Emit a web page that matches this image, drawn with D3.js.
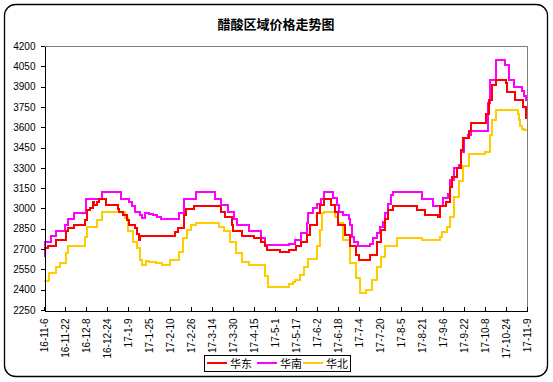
<!DOCTYPE html>
<html><head><meta charset="utf-8">
<script src="https://cdn.jsdelivr.net/npm/d3@7/dist/d3.min.js"></script>
<style>
html,body{margin:0;padding:0;background:#fff;}
svg{display:block;}
text{font-family:"Liberation Sans",Arial,sans-serif;}
</style></head>
<body>
<svg id="chart" width="553" height="382"></svg>
<script>
const title = "醋酸区域价格走势图";
const seriesNames = ["华东", "华南", "华北"];
const seriesColors = ["#FF0000", "#FF00FF", "#FFCC00"];
const xTickLabels = ["16-11-6","16-11-22","16-12-8","16-12-24","17-1-9","17-1-25","17-2-10","17-2-26","17-3-14","17-3-30","17-4-15","17-5-1","17-5-17","17-6-2","17-6-18","17-7-4","17-7-20","17-8-5","17-8-21","17-9-6","17-9-22","17-10-8","17-10-24","17-11-9"];
const yTicks = [2250,2400,2550,2700,2850,3000,3150,3300,3450,3600,3750,3900,4050,4200];

// 华东 (East)
const eastDates = ["2016-11-06","2016-11-07","2016-11-09","2016-11-15","2016-11-23","2016-11-24","2016-11-29","2016-12-07","2016-12-09","2016-12-11","2016-12-13","2016-12-14","2016-12-16","2016-12-18","2016-12-23","2017-01-01","2017-01-02","2017-01-05","2017-01-08","2017-01-10","2017-01-14","2017-01-16","2017-01-17","2017-01-18","2017-02-14","2017-02-16","2017-02-21","2017-02-22","2017-02-28","2017-03-16","2017-03-21","2017-03-24","2017-03-29","2017-03-30","2017-04-06","2017-04-15","2017-04-20","2017-04-23","2017-04-25","2017-05-05","2017-05-12","2017-05-17","2017-05-21","2017-05-25","2017-05-28","2017-06-02","2017-06-04","2017-06-07","2017-06-13","2017-06-16","2017-06-18","2017-06-23","2017-06-27","2017-07-02","2017-07-04","2017-07-12","2017-07-18","2017-07-21","2017-07-24","2017-07-26","2017-07-30","2017-08-17","2017-08-23","2017-09-02","2017-09-04","2017-09-08","2017-09-11","2017-09-13","2017-09-17","2017-09-20","2017-09-21","2017-09-26","2017-09-27","2017-10-09","2017-10-11","2017-10-13","2017-10-16","2017-10-24","2017-10-25","2017-10-31","2017-11-06","2017-11-08","2017-11-09"];
const eastValues = [2690,2710,2725,2770,2835,2855,2875,2915,2990,3005,3050,3025,3050,3070,3025,2995,2975,2950,2915,2880,2855,2815,2770,2800,2825,2855,2950,2995,3020,3015,2975,2940,2880,2830,2800,2780,2755,2720,2695,2675,2695,2720,2755,2805,2880,2965,3025,3070,3025,2975,2880,2805,2720,2655,2620,2655,2755,2840,2925,2990,3020,2990,2955,2940,3015,3050,3160,3235,3300,3430,3520,3570,3630,3700,3800,3910,3950,3925,3860,3800,3750,3670,3670];

// 华南 (South)
const southDates = ["2016-11-06","2016-11-07","2016-11-11","2016-11-15","2016-11-22","2016-11-24","2016-11-29","2016-12-08","2016-12-20","2017-01-04","2017-01-10","2017-01-12","2017-01-14","2017-01-18","2017-01-20","2017-01-22","2017-01-25","2017-01-28","2017-01-31","2017-02-03","2017-02-17","2017-02-21","2017-03-02","2017-03-16","2017-03-21","2017-03-26","2017-03-31","2017-04-02","2017-04-11","2017-04-20","2017-04-23","2017-05-12","2017-05-16","2017-05-21","2017-05-25","2017-05-26","2017-05-30","2017-06-02","2017-06-05","2017-06-07","2017-06-14","2017-06-17","2017-06-19","2017-06-22","2017-06-26","2017-06-27","2017-06-29","2017-06-30","2017-07-03","2017-07-12","2017-07-15","2017-07-18","2017-07-20","2017-07-22","2017-07-24","2017-07-26","2017-07-28","2017-07-30","2017-08-21","2017-08-29","2017-09-06","2017-09-10","2017-09-11","2017-09-14","2017-09-18","2017-09-20","2017-09-22","2017-09-25","2017-09-27","2017-10-10","2017-10-12","2017-10-16","2017-10-23","2017-10-26","2017-10-30","2017-11-05","2017-11-07","2017-11-08","2017-11-09"];
const southValues = [2650,2750,2800,2830,2880,2920,2970,3070,3120,3070,3045,3020,2975,2950,2930,2970,2960,2950,2940,2925,2970,3070,3120,3070,3025,2975,2925,2880,2830,2780,2730,2740,2770,2820,2890,2970,3000,3030,3070,3120,3075,3025,2975,2950,2925,2880,2790,2755,2725,2740,2780,2820,2865,2900,2970,3030,3100,3120,3070,3020,3075,3110,3210,3300,3320,3420,3520,3540,3570,3780,3950,4100,4060,3950,3900,3870,3830,3800,3800];

// 华北 (North)
const northDates = ["2016-11-06","2016-11-10","2016-11-15","2016-11-18","2016-11-23","2016-11-24","2016-12-07","2016-12-09","2016-12-16","2016-12-20","2017-01-07","2017-01-09","2017-01-13","2017-01-16","2017-01-18","2017-01-20","2017-01-23","2017-01-25","2017-01-30","2017-02-04","2017-02-10","2017-02-17","2017-02-20","2017-02-23","2017-02-26","2017-03-02","2017-03-19","2017-03-23","2017-03-28","2017-04-01","2017-04-06","2017-04-11","2017-04-23","2017-04-26","2017-05-12","2017-05-15","2017-05-16","2017-05-20","2017-05-23","2017-05-26","2017-06-02","2017-06-04","2017-06-06","2017-06-07","2017-06-16","2017-06-18","2017-06-22","2017-06-27","2017-07-02","2017-07-05","2017-07-09","2017-07-14","2017-07-18","2017-07-21","2017-07-24","2017-08-02","2017-08-21","2017-09-04","2017-09-05","2017-09-09","2017-09-11","2017-09-14","2017-09-18","2017-09-21","2017-09-26","2017-10-08","2017-10-12","2017-10-13","2017-10-16","2017-11-02","2017-11-03","2017-11-04","2017-11-05","2017-11-07","2017-11-09"];
const northValues = [2465,2520,2570,2600,2670,2725,2790,2865,2915,2975,2930,2830,2755,2705,2620,2580,2610,2605,2595,2585,2620,2680,2780,2840,2880,2890,2865,2830,2755,2670,2605,2580,2500,2420,2445,2460,2470,2510,2570,2625,2720,2840,2965,2975,2940,2890,2765,2595,2485,2375,2400,2470,2570,2645,2725,2785,2765,2790,2825,2865,2940,3085,3200,3310,3405,3420,3545,3655,3725,3700,3650,3610,3590,3580,3580];

const parseISO = d3.utcParse("%Y-%m-%d");
function parseShort(s){ const p = s.split("-").map(Number); return new Date(Date.UTC(2000+p[0], p[1]-1, p[2])); }

const svg = d3.select("#chart");
const W = 553, H = 382;
const plot = {left:44, right:527, top:46, bottom:310};

// outer rounded frame
svg.append("rect").attr("x",4.5).attr("y",4.5).attr("width",543).attr("height",372)
  .attr("rx",11).attr("ry",11).attr("fill","#fff").attr("stroke","#000").attr("stroke-width",1.3);

// title
svg.append("text").attr("x",276).attr("y",29).attr("text-anchor","middle")
  .style("font-family","'Noto Sans CJK SC',sans-serif").style("font-size","13px").style("font-weight","bold")
  .text(title);

const x = d3.scaleUtc().domain([parseShort(xTickLabels[0]), parseShort(xTickLabels[xTickLabels.length-1])]).range([plot.left, plot.right]);
const y = d3.scaleLinear().domain([yTicks[0], yTicks[yTicks.length-1]]).range([plot.bottom, plot.top]);

// plot border top/right gray
svg.append("path").attr("d",`M${plot.left},${plot.top+0.5}H${plot.right+0.5}V${plot.bottom}`)
  .attr("fill","none").attr("stroke","#808080").attr("stroke-width",1).attr("shape-rendering","crispEdges");

// series lines
const series = [
  {name:seriesNames[0], color:seriesColors[0], dates:eastDates, values:eastValues},
  {name:seriesNames[1], color:seriesColors[1], dates:southDates, values:southValues},
  {name:seriesNames[2], color:seriesColors[2], dates:northDates, values:northValues}
];
const line = d3.line().x(d=>x(d[0])).y(d=>y(d[1])).curve(d3.curveStepAfter);
const drawOrder = [2,1,0];
drawOrder.forEach(i=>{
  const s = series[i];
  const pts = s.dates.map((d,j)=>[parseISO(d), s.values[j]]);
  svg.append("path").datum(pts).attr("d",line).attr("fill","none")
    .attr("stroke",s.color).attr("stroke-width",2).attr("shape-rendering","crispEdges")
    .attr("stroke-linejoin","miter");
});

// y axis
const yAxis = d3.axisLeft(y).tickValues(yTicks).tickSize(4).tickSizeOuter(0).tickFormat(d3.format("d"));
const gy = svg.append("g").attr("transform",`translate(${plot.left+0.5},0)`).call(yAxis);
gy.select(".domain").attr("stroke","#000").attr("shape-rendering","crispEdges");
gy.selectAll(".tick line").attr("stroke","#000").attr("shape-rendering","crispEdges");
gy.selectAll(".tick text").attr("x",-9).style("font-size","10px").style("font-family","'Liberation Sans',Arial,sans-serif").attr("fill","#000");

// x axis
const xTickDates = xTickLabels.map(parseShort);
const xAxis = d3.axisBottom(x).tickValues(xTickDates).tickSize(-4).tickSizeOuter(0).tickFormat((d,i)=>xTickLabels[i]);
const gx = svg.append("g").attr("transform",`translate(0,${plot.bottom+0.5})`).call(xAxis);
gx.select(".domain").attr("stroke","#000").attr("shape-rendering","crispEdges");
gx.selectAll(".tick line").attr("stroke","#000").attr("shape-rendering","crispEdges");
gx.selectAll(".tick text")
  .attr("transform","rotate(-90)").attr("text-anchor","end")
  .attr("x",-8).attr("y",0).attr("dy","0.35em")
  .style("font-size","10px").style("font-family","'Liberation Sans',Arial,sans-serif").attr("fill","#000");

// legend
const lg = svg.append("g");
lg.append("rect").attr("x",204.5).attr("y",355.5).attr("width",146).attr("height",16)
  .attr("fill","#fff").attr("stroke","#000").attr("stroke-width",1).attr("shape-rendering","crispEdges");
const lx = [207, 257, 303];
series.forEach((s,i)=>{
  lg.append("line").attr("x1",lx[i]).attr("x2",lx[i]+20).attr("y1",363).attr("y2",363)
    .attr("stroke",s.color).attr("stroke-width",2).attr("shape-rendering","crispEdges");
  lg.append("text").attr("x",lx[i]+23).attr("y",367.5)
    .style("font-family","'Noto Sans CJK SC',sans-serif").style("font-size","11px")
    .text(s.name);
});
</script>
</body></html>
